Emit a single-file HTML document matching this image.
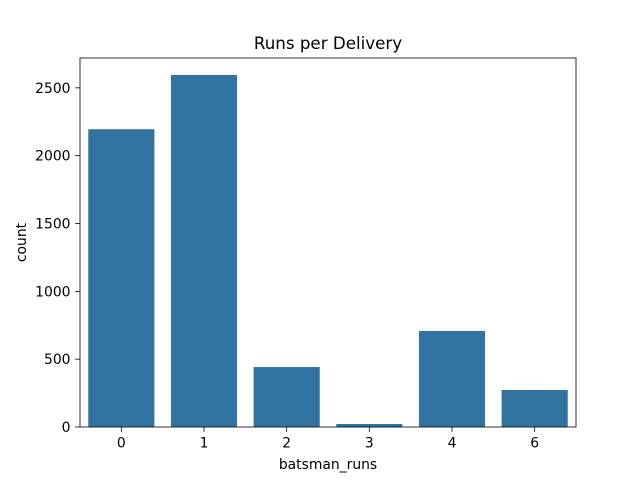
<!DOCTYPE html>
<html><head><meta charset="utf-8"><style>
body{margin:0;background:#fff;font-family:"DejaVu Sans",sans-serif}
svg text{font-family:"DejaVu Sans",sans-serif;fill:#000}
</style></head><body>
<svg width="640" height="480">
<rect width="640" height="480" fill="#fff"/>
<g id="bars"></g>
<g id="axes"></g>
</svg>
<script>
const categories=["0","1","2","3","4","6"];
const counts=[2195,2595,442,22,708,273];
const yTicks=[0,500,1000,1500,2000,2500];
const L=80,R=576,T=58,B=427,yMax=2720;
const NS="http://www.w3.org/2000/svg";
const y=v=>B-(v/yMax)*(B-T);
const step=(R-L)/categories.length;
const x=i=>L+step*i+step/2;
const bars=document.getElementById('bars'),axes=document.getElementById('axes');
function mk(tag,attrs,parent,text){const e=document.createElementNS(NS,tag);for(const k in attrs)e.setAttribute(k,attrs[k]);if(text!==undefined)e.textContent=text;parent.appendChild(e);return e;}
counts.forEach((v,i)=>{
 const r=mk('rect',{x:x(i)-step*0.4,y:y(v),width:step*0.8,height:B-y(v),fill:'#3274a1'},bars);
 
 
});
const frame=mk('rect',{x:L,y:T,width:R-L,height:B-T,fill:'none',stroke:'#000','stroke-width':0.8},axes);


categories.forEach((c,i)=>{
 mk('line',{x1:x(i),x2:x(i),y1:B,y2:B+4.9,stroke:'#000','stroke-width':0.8},axes);
 const t=mk('text',{x:x(i),y:B+20.5,'text-anchor':'middle','font-size':13.9},axes,c);
 
 
});
yTicks.forEach(v=>{
 mk('line',{x1:L-4.9,x2:L,y1:y(v),y2:y(v),stroke:'#000','stroke-width':0.8},axes);
 const t=mk('text',{x:L-9.5,y:y(v)+5,'text-anchor':'end','font-size':13.9},axes,String(v));
 
 
});
const xt=mk('text',{x:(L+R)/2,y:469,'text-anchor':'middle','font-size':13.9},axes,'batsman_runs');


const yt=mk('text',{x:26,y:(T+B)/2,'text-anchor':'middle','font-size':13.9,transform:'rotate(-90 26 '+((T+B)/2)+')'},axes,'count');


const ti=mk('text',{x:(L+R)/2,y:49,'text-anchor':'middle','font-size':16.7},axes,'Runs per Delivery');


</script>
</body></html>
